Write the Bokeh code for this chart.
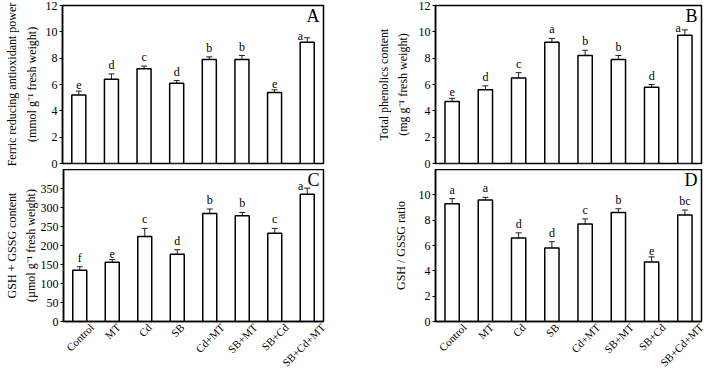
import math
from bokeh.plotting import figure
from bokeh.models import (Range1d, FixedTicker, ColumnDataSource, Whisker, TeeHead, Label,
                          Title, CustomJSTickFormatter)
from bokeh.layouts import row, column
from bokeh.core.properties import value
from bokeh.embed import file_html
from bokeh.resources import INLINE

treatments = ["Control", "MT", "Cd", "SB", "Cd+MT", "SB+MT", "SB+Cd", "SB+Cd+MT"]

frap_mean = [5.2, 6.4, 7.2, 6.1, 7.9, 7.9, 5.4, 9.2]
frap_err = [0.3, 0.4, 0.2, 0.2, 0.2, 0.3, 0.2, 0.35]
frap_letters = ["e", "d", "c", "d", "b", "b", "e", "a"]

phen_mean = [4.7, 5.6, 6.5, 9.2, 8.2, 7.9, 5.8, 9.75]
phen_err = [0.25, 0.3, 0.4, 0.3, 0.4, 0.3, 0.2, 0.4]
phen_letters = ["e", "d", "c", "a", "b", "b", "d", "a"]

gsh_mean = [135, 156, 224, 177, 284, 278, 232, 335]
gsh_err = [9, 7, 21, 12, 12, 9, 13, 16]
gsh_letters = ["f", "e", "c", "d", "b", "b", "c", "a"]

ratio_mean = [9.3, 9.6, 6.6, 5.8, 7.7, 8.6, 4.7, 8.4]
ratio_err = [0.4, 0.2, 0.4, 0.5, 0.4, 0.3, 0.4, 0.4]
ratio_letters = ["a", "a", "d", "d", "c", "b", "e", "bc"]

SERIF = "Liberation Serif"
XFONT = 11
PX_PER_UNIT = 266 / 8.0

# approximate Times glyph advance widths (em) to centre rotated labels on their bars
_W = {"C": .667, "o": .5, "n": .5, "t": .278, "r": .333, "l": .278, "M": .889, "T": .611,
      "d": .5, "S": .556, "B": .667, "+": .564}


def label_shift(txt):
    L = sum(_W.get(c, .5) for c in txt) * XFONT
    return (L * 0.354 + 0.5) / PX_PER_UNIT


def panel(means, errs, letters, ymax, yticks, tag, line1, line2, l2_standoff, l1_standoff,
          top_row, left_col, shift_last):
    width = 340 if left_col else 368
    height = 169 if top_row else 207
    p = figure(width=width, height=height, output_backend="svg", toolbar_location=None,
               x_range=Range1d(-0.5, 7.5), y_range=Range1d(0, ymax),
               min_border_left=57 if left_col else 95,
               min_border_right=17 if left_col else 7,
               min_border_top=5 if top_row else 0,
               min_border_bottom=6 if top_row else 50)
    p.xgrid.visible = False
    p.ygrid.visible = False
    p.outline_line_color = "black"
    p.outline_line_width = 1.5
    p.outline_line_alpha = 1.0
    p.background_fill_color = "white"
    p.border_fill_color = "white"

    xs = list(range(len(means)))
    src = ColumnDataSource(dict(
        x=xs, top=means,
        upper=[m + e for m, e in zip(means, errs)],
        lower=[m - e for m, e in zip(means, errs)]))
    p.vbar(x="x", top="top", width=0.43, source=src, fill_color="white",
           line_color="black", line_width=1.5)
    w = Whisker(base="x", upper="upper", lower="lower", source=src,
                line_color="#222222", line_width=1,
                upper_head=TeeHead(size=6, line_color="#222222", line_width=1),
                lower_head=TeeHead(size=6, line_color="#222222", line_width=1))
    p.add_layout(w)

    n = len(xs)
    k = n - 1 if shift_last else n
    s1 = ColumnDataSource(dict(x=xs[:k], y=src.data["upper"][:k], lab=letters[:k]))
    p.text(x="x", y="y", text="lab", source=s1, text_align="center", text_baseline="bottom",
           y_offset=-2, text_font=value(SERIF), text_font_size="12px", text_color="black")
    if shift_last:
        s2 = ColumnDataSource(dict(x=xs[k:], y=src.data["upper"][k:], lab=letters[k:]))
        p.text(x="x", y="y", text="lab", source=s2, text_align="right", text_baseline="middle",
               x_offset=-4, y_offset=-2, text_font=value(SERIF), text_font_size="12px",
               text_color="black")

    p.add_layout(Label(x=7.5, y=ymax, text=tag, x_offset=-4, y_offset=0,
                       text_align="right", text_baseline="top",
                       text_font=SERIF, text_font_size="18px", text_color="black"))

    ya = p.yaxis[0]
    ya.ticker = FixedTicker(ticks=yticks)
    ya.axis_line_color = "black"
    ya.axis_line_width = 1.5
    ya.major_tick_line_color = "black"
    ya.major_tick_line_width = 1
    ya.major_tick_out = 3
    ya.major_tick_in = 0
    ya.minor_tick_line_color = None
    ya.major_label_standoff = 2
    ya.major_label_text_font = SERIF
    ya.major_label_text_font_size = "12px"
    ya.major_label_text_color = "black"
    ya.axis_label = line2
    ya.axis_label_standoff = l2_standoff
    ya.axis_label_text_font = SERIF
    ya.axis_label_text_font_size = "12px"
    ya.axis_label_text_font_style = "normal"
    ya.axis_label_text_color = "black"
    if line1:
        p.add_layout(Title(text=line1, align="center", standoff=l1_standoff,
                           text_font=SERIF, text_font_size="12px",
                           text_font_style="normal", text_color="black"), "left")

    xa = p.xaxis[0]
    if top_row:
        xa.visible = False
    else:
        shifts = [label_shift(t) for t in treatments]
        ticks = [min(i + s, 7.49) for i, s in enumerate(shifts)]
        xa.ticker = FixedTicker(ticks=ticks)
        xa.formatter = CustomJSTickFormatter(args=dict(labels=treatments),
                                             code="return labels[index]")
        xa.major_label_orientation = math.pi / 4
        xa.axis_line_color = "black"
        xa.axis_line_width = 1.5
        xa.major_tick_line_color = None
        xa.major_tick_out = 0
        xa.minor_tick_line_color = None
        xa.major_label_standoff = 4
        xa.major_label_text_font = SERIF
        xa.major_label_text_font_size = "%dpx" % XFONT
        xa.major_label_text_color = "black"
    return p


pA = panel(frap_mean, frap_err, frap_letters, 12, [0, 2, 4, 6, 8, 10, 12], "A",
           "Ferric reducing antioxidant power", "(mmol g\u207b\u00b9 fresh weight)", 4, 5,
           True, True, True)
pB = panel(phen_mean, phen_err, phen_letters, 12, [0, 2, 4, 6, 8, 10, 12], "B",
           "Total phenolics content", "(mg g\u207b\u00b9 fresh weight)", 6, 4,
           True, False, True)
pC = panel(gsh_mean, gsh_err, gsh_letters, 400, [0, 50, 100, 150, 200, 250, 300, 350], "C",
           "GSH + GSSG content", "(\u00b5mol g\u207b\u00b9 fresh weight)", 0, 4,
           False, True, True)
pD = panel(ratio_mean, ratio_err, ratio_letters, 12, [0, 2, 4, 6, 8, 10], "D",
           None, "GSH / GSSG ratio", 8, 0,
           False, False, False)

layout = column(row(pA, pB), row(pC, pD))
open("out.html", "w").write(file_html(layout, INLINE))
